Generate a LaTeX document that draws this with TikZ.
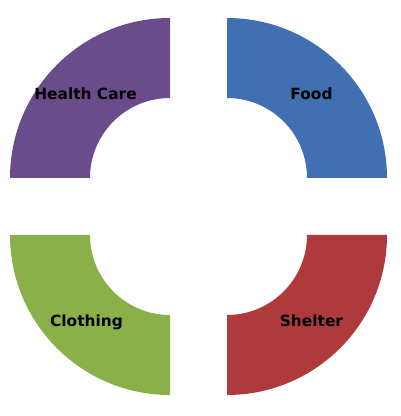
\documentclass[tikz,border=0pt]{standalone}
\usepackage{fontspec}
\setmainfont{DejaVu Sans}
\definecolor{hpurple}{HTML}{6A4C8D}
\definecolor{fblue}{HTML}{4170B2}
\definecolor{cgreen}{HTML}{8AB04A}
\definecolor{sred}{HTML}{AF3A3B}
\begin{document}
\begin{tikzpicture}[x=1pt,y=1pt,
  lbl/.style={font=\fontsize{15.4}{17}\selectfont\bfseries, text=black, inner sep=0pt}]
\useasboundingbox (0,0) rectangle (400,416);
% Health Care (top-left)
\fill[hpurple] (10,238) arc[start angle=180,end angle=90,radius=160] -- (170,318)
  arc[start angle=90,end angle=180,radius=80] -- cycle;
% Food (top-right)
\fill[fblue] (227,398) arc[start angle=90,end angle=0,radius=160] -- (307,238)
  arc[start angle=0,end angle=90,radius=80] -- cycle;
% Clothing (bottom-left)
\fill[cgreen] (10,181) arc[start angle=180,end angle=270,radius=160] -- (170,101)
  arc[start angle=270,end angle=180,radius=80] -- cycle;
% Shelter (bottom-right)
\fill[sred] (227,21) arc[start angle=270,end angle=360,radius=160] -- (307,181)
  arc[start angle=0,end angle=-90,radius=80] -- cycle;
\node[lbl] (hc) at (85.5,322) {Health Care};
\node[lbl] (fd) at (311.5,322) {Food};
\node[lbl] (cl) at (86.5,94) {Clothing};
\node[lbl] (sh) at (311.5,95) {Shelter};
\end{tikzpicture}
\end{document}
